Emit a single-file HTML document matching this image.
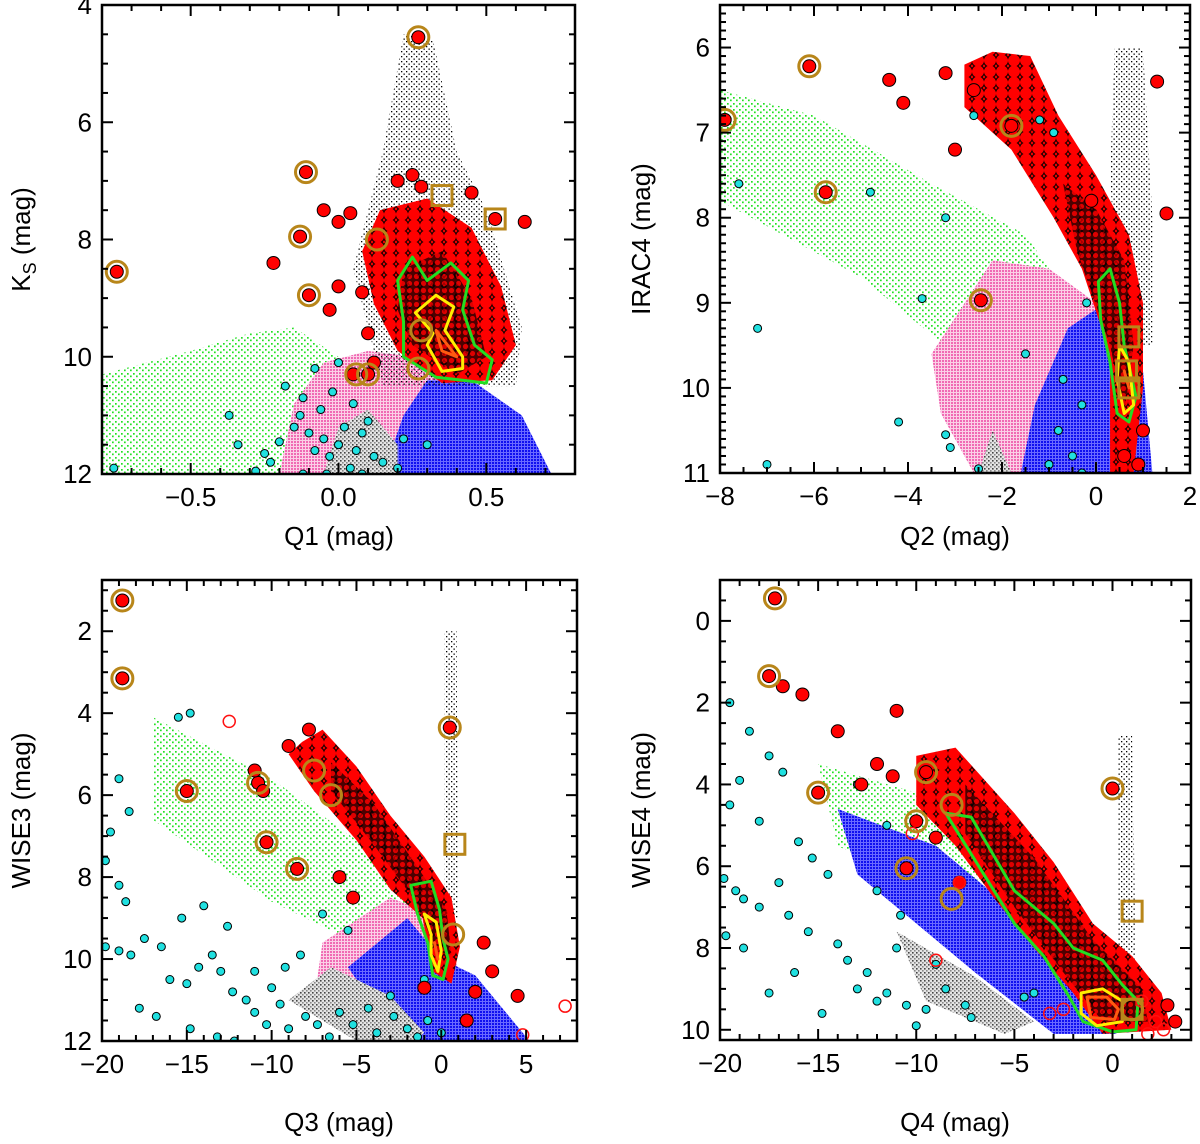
<!DOCTYPE html>
<html><head><meta charset="utf-8"><style>
html,body{margin:0;padding:0;background:#fff;}
svg{display:block;font-family:"Liberation Sans",sans-serif;}
</style></head><body>
<svg id="fig" width="1200" height="1144" viewBox="0 0 1200 1144" xmlns="http://www.w3.org/2000/svg">
<defs>
<pattern id="pGreen" width="6" height="6" patternUnits="userSpaceOnUse"><rect x="1" y="1" width="1.7" height="1.7" fill="#22e022"/><rect x="4" y="3.5" width="1.7" height="1.7" fill="#22e022"/></pattern>
<pattern id="pPink" width="3" height="3" patternUnits="userSpaceOnUse"><rect width="3" height="3" fill="#fbd0e6"/><rect x="0" y="0" width="2" height="2" fill="#f06ab4"/></pattern>
<pattern id="pBlue" width="3" height="3" patternUnits="userSpaceOnUse"><rect width="3" height="3" fill="#6a6aff"/><rect x="0" y="0" width="2" height="2" fill="#1010f0"/></pattern>
<pattern id="pGrey" width="4" height="4" patternUnits="userSpaceOnUse"><rect width="4" height="4" fill="#e4e4e4"/><rect x="0" y="0" width="1.6" height="1.6" fill="#444"/><rect x="2" y="2" width="1.6" height="1.6" fill="#888"/></pattern>
<pattern id="pBlack" width="5" height="5" patternUnits="userSpaceOnUse"><rect x="1" y="1" width="1.3" height="1.3" fill="#000"/><rect x="3.5" y="3.5" width="1.3" height="1.3" fill="#000"/></pattern>
<pattern id="pRed" width="12" height="11" patternUnits="userSpaceOnUse"><rect width="12" height="11" fill="#200"/><circle cx="0" cy="0" r="6.5" fill="#ff0000" stroke="#000" stroke-width="1"/><circle cx="12" cy="0" r="6.5" fill="#ff0000" stroke="#000" stroke-width="1"/><circle cx="0" cy="11" r="6.5" fill="#ff0000" stroke="#000" stroke-width="1"/><circle cx="12" cy="11" r="6.5" fill="#ff0000" stroke="#000" stroke-width="1"/><circle cx="6" cy="5.5" r="6.5" fill="#ff0000" stroke="#000" stroke-width="1"/></pattern>
<pattern id="pRedDark" width="7" height="7" patternUnits="userSpaceOnUse"><rect width="7" height="7" fill="#000"/><circle cx="3.5" cy="3.5" r="3" fill="#d00000" stroke="#000" stroke-width="0.8"/></pattern>
</defs>
</svg>
<script>
// ---------- Panel 1 data (Q1 vs Ks) ----------
const p1Green=[[-0.8,10.3],[-0.5,9.9],[-0.3,9.6],[-0.15,9.5],[0.0,10.0],[0.0,12],[-0.8,12]];
const p1Pink=[[-0.2,12],[-0.15,10.8],[-0.05,10.1],[0.1,9.9],[0.25,10.0],[0.45,10.6],[0.55,11.3],[0.62,12]];
const p1Blue=[[0.15,12],[0.22,11.0],[0.3,10.4],[0.45,10.4],[0.62,11.0],[0.72,12]];
const p1Grey=[[-0.05,12],[0.0,11.2],[0.1,10.9],[0.2,11.5],[0.2,12]];
const p1Black=[[0.22,4.5],[0.32,4.6],[0.4,6.5],[0.5,7.5],[0.62,9.5],[0.6,10.5],[0.15,10.5],[0.05,8.5],[0.15,6.5]];
const p1Red=[[0.14,7.5],[0.3,7.3],[0.45,7.8],[0.55,8.8],[0.6,9.8],[0.52,10.4],[0.35,10.45],[0.2,9.9],[0.12,9.1],[0.08,8.2]];
const p1RedCore=[[0.22,8.5],[0.35,8.2],[0.45,9.0],[0.5,10.0],[0.4,10.3],[0.25,9.8],[0.2,9.2]];
const p1Cyan=[[-0.76,11.9],[-0.37,11.0],[-0.34,11.5],[-0.23,11.8],[-0.25,11.65],[-0.15,11.2],[-0.13,11.0],[-0.2,11.45],[-0.1,11.3],[-0.08,11.6],[-0.05,11.4],[-0.03,11.7],[0.0,11.5],[0.02,11.2],[0.04,11.9],[0.06,11.6],[0.08,11.3],[-0.06,10.9],[-0.12,10.7],[-0.02,10.6],[0.05,10.8],[0.1,11.1],[0.12,11.7],[0.2,11.9],[0.3,11.5],[-0.18,10.5],[-0.08,10.2],[0.0,10.1],[-0.12,12.0],[-0.04,12.0],[0.08,12.0],[0.15,11.8],[-0.28,11.95],[0.22,11.4]];
const p1RedPts=[[-0.75,8.55],[-0.11,6.85],[-0.13,7.95],[-0.1,8.95],[0.27,4.55],[-0.22,8.4],[-0.05,7.5],[0.0,7.7],[0.04,7.55],[-0.03,9.2],[0.63,7.7],[0.53,7.65],[0.1,9.6],[0.12,10.1],[0.05,10.3],[0.1,10.3],[0.0,8.8],[0.08,8.9],[0.2,7.0],[0.25,6.9],[0.28,7.1],[0.45,7.2]];
const p1Rings=[[-0.75,8.55],[-0.11,6.85],[-0.13,7.95],[-0.1,8.95],[0.27,4.55],[0.13,8.0],[0.28,9.55],[0.27,10.2],[0.06,10.3],[0.1,10.3]];
const p1Squares=[[0.35,7.25],[0.53,7.65]];
const p1ContGreen=[[0.2,8.7],[0.25,8.3],[0.3,8.7],[0.38,8.4],[0.44,8.7],[0.42,9.2],[0.46,9.8],[0.52,10.05],[0.5,10.45],[0.42,10.4],[0.33,10.35],[0.22,10.0],[0.22,9.4]];
const p1ContYellow=[[0.26,9.25],[0.33,8.95],[0.39,9.15],[0.36,9.55],[0.42,10.0],[0.42,10.2],[0.35,10.25],[0.3,9.8],[0.32,9.6]];
const p1ContOrange=[[0.33,9.55],[0.35,9.9],[0.4,10.0]];
// ---------- Panel 2 data (Q2 vs IRAC4) ----------
const p2Green=[[-8,6.5],[-6,6.8],[-3.5,7.6],[-1.5,8.2],[-0.5,9.0],[-1.0,10.0],[-3.0,9.6],[-5,8.7],[-8,7.8]];
const p2Pink=[[-3.5,9.6],[-2.2,8.5],[-1.0,8.6],[0.0,9.0],[0.3,10.0],[0.1,11],[-2.6,11],[-3.3,10.3]];
const p2Blue=[[-1.6,11],[-1.3,10.2],[-0.6,9.3],[0.2,9.0],[1.0,9.8],[1.2,11]];
const p2Grey=[[-2.5,11],[-2.2,10.5],[-1.8,11]];
const p2Black=[[0.4,6.0],[1.0,6.0],[1.2,8.0],[1.2,9.5],[0.5,9.5],[0.3,7.5]];
const p2Red=[[-2.8,6.2],[-2.2,6.05],[-1.4,6.1],[-0.8,6.8],[0.0,7.5],[0.7,8.2],[1.0,9.0],[1.0,10.0],[0.8,11],[0.3,11],[0.3,9.6],[-0.3,8.6],[-0.9,8.0],[-1.8,7.2],[-2.8,6.7]];
const p2RedCore=[[-0.7,7.6],[0.0,7.9],[0.6,8.5],[0.8,9.5],[0.6,10.3],[0.3,9.5],[-0.4,8.4]];
const p2Cyan=[[-7.6,7.6],[-7.2,9.3],[-7.0,10.9],[-4.2,10.4],[-3.2,10.55],[-3.1,10.7],[-2.5,10.95],[-4.8,7.7],[-3.2,8.0],[-3.7,8.95],[-0.8,10.5],[-0.5,10.8],[-1.0,10.9],[-0.3,10.2],[-0.7,9.9],[-1.5,9.6],[-0.2,9.0],[-0.9,7.0],[-1.2,6.85],[-2.6,6.8],[-0.3,11.0]];
const p2RedPts=[[-6.1,6.22],[-7.9,6.85],[-5.75,7.7],[-2.45,8.97],[-1.8,6.92],[-4.4,6.38],[-4.1,6.65],[-3.2,6.3],[-3.0,7.2],[1.3,6.4],[1.5,7.95],[-0.1,7.8],[-2.6,6.5],[0.6,10.8],[1.0,10.5],[0.9,10.9]];
const p2Rings=[[-6.1,6.22],[-7.9,6.85],[-5.75,7.7],[-2.45,8.97],[-1.8,6.92]];
const p2Squares=[[0.7,9.4],[0.7,10.0],[0.65,9.8]];
const p2ContGreen=[[0.05,8.75],[0.3,8.6],[0.5,9.0],[0.6,9.5],[0.85,10.1],[0.7,10.4],[0.45,10.3],[0.3,9.7],[0.1,9.2]];
const p2ContYellow=[[0.5,9.5],[0.7,9.7],[0.8,10.2],[0.6,10.3],[0.45,9.9]];
const p2ContOrange=[[0.6,9.8],[0.7,10.0]];
// ---------- Panel 3 data (Q3 vs WISE3) ----------
const p3Green=[[-17,4.1],[-10,5.6],[-4,7.4],[-1.5,8.8],[-5,9.6],[-10,8.6],[-17,6.6]];
const p3Pink=[[-7,9.6],[-3,8.5],[0,9.0],[1.2,10.5],[2.2,12],[-5,12],[-7.5,11]];
const p3Blue=[[-5.5,10.2],[-2,9.0],[0,10.0],[2,10.4],[5.2,12],[-2.5,12]];
const p3Grey=[[-9,11.0],[-6.5,10.2],[-3,10.9],[-1,11.8],[-1.6,12],[-5,12]];
const p3Black=[[0.2,2.0],[0.9,2.0],[1.0,9.0],[0.2,9.0]];
const p3Red=[[-8.2,4.7],[-7,4.4],[-5,5.3],[-3,6.5],[-1,7.5],[0.6,8.5],[1.1,9.7],[0.6,10.6],[-0.5,10.3],[-1.1,9.0],[-3,8.3],[-5,7.1],[-7.5,5.9],[-9,5.0]];
const p3RedCore=[[-6.5,5.2],[-4,6.2],[-1.5,7.7],[0.3,8.8],[0.6,9.9],[-0.3,9.8],[-1.5,8.6],[-4,7.2],[-6.5,5.9]];
const p3Cyan=[[-19.8,7.6],[-19.5,6.9],[-19,5.6],[-18.4,6.4],[-15.5,4.1],[-14.8,4.0],[-19,8.2],[-18.6,8.6],[-19.8,9.7],[-19,9.8],[-18.3,9.9],[-17.5,9.5],[-16.5,9.7],[-16,10.5],[-15,10.6],[-14.3,10.2],[-13.5,9.9],[-13,10.3],[-12.3,10.8],[-11.5,11.0],[-11,11.3],[-10.3,11.6],[-9.5,11.1],[-9,11.7],[-8,11.4],[-7.3,11.6],[-6.6,11.9],[-6,11.3],[-5.2,11.6],[-4.3,11.2],[-3.8,11.8],[-2.8,11.4],[-2,11.7],[-1.4,11.9],[-0.8,11.5],[0,11.8],[-17.8,11.2],[-16.8,11.4],[-14.8,11.7],[-13.2,11.9],[-12.2,12.0],[-11,10.3],[-10,10.7],[-9.2,10.2],[-8.3,9.9],[-14,8.7],[-12.6,9.2],[-15.3,9.0],[-7,8.9],[-5.5,9.3],[-3,10.9],[-1,10.5]];
const p3RedPts=[[-18.8,1.25],[-18.8,3.15],[-15,5.9],[-10.8,5.7],[-10.3,7.15],[-8.5,7.8],[0.5,4.35],[-11,5.4],[-10.5,5.9],[-7.8,4.4],[-9,4.8],[-6,8.0],[-5.2,8.5],[2.5,9.6],[3,10.3],[4.5,10.9],[2,10.8],[1.5,11.5],[-1,10.7]];
const p3Rings=[[-18.8,1.25],[-18.8,3.15],[-15,5.9],[-10.8,5.7],[-10.3,7.15],[-8.5,7.8],[0.5,4.35],[-7.5,5.4],[-6.5,6.0],[0.7,9.4]];
const p3Squares=[[0.8,7.2]];
const p3Open=[[-12.5,4.2],[7.3,11.15],[4.8,11.85]];
const p3ContGreen=[[-1.8,8.2],[-0.6,8.1],[-0.1,8.8],[0.1,9.5],[0.4,10.0],[0.1,10.5],[-0.5,10.4],[-0.8,9.6],[-1.4,8.9]];
const p3ContYellow=[[-1.0,8.9],[-0.3,9.1],[0.0,9.8],[-0.2,10.3],[-0.6,9.9],[-0.6,9.4]];
const p3ContOrange=[[-0.4,9.6],[-0.2,10.0]];
// ---------- Panel 4 data (Q4 vs WISE4) ----------
const p4Green=[[-15,3.5],[-10,4.2],[-5,6.0],[-3.5,7.2],[-8,7.0],[-14,5.5]];
const p4Blue=[[-14,4.6],[-9,5.5],[-4,7.5],[-1,9.0],[0.2,10.1],[-3,10.1],[-7,8.6],[-13,6.2]];
const p4Pink=[[-8,7.2],[-4,7.8],[-1.5,9.0],[-2,9.9],[-4,9.6],[-7,8.6]];
const p4Grey=[[-11,7.6],[-7,8.7],[-4,9.8],[-5.5,10.1],[-9.5,9.3]];
const p4Black=[[0.3,2.8],[1.0,2.8],[1.2,8.5],[0.3,8.5]];
const p4Red=[[-10,3.3],[-8,3.1],[-5,4.7],[-3,5.9],[-1,7.4],[1,8.2],[2.5,9.1],[3,10],[-0.5,10.1],[-2,9.1],[-4,8.0],[-6,6.8],[-8,5.5],[-10,4.5]];
const p4RedCore=[[-7.5,4.0],[-4,5.8],[-1,7.8],[1.5,9.0],[1.8,9.8],[-0.5,9.8],[-2.5,8.6],[-5,7.0],[-7.5,5.2]];
const p4Cyan=[[-19.8,6.3],[-19.2,6.6],[-18.8,6.8],[-18,7.0],[-19.7,7.7],[-18.8,8.0],[-19.5,2.0],[-18.5,2.7],[-17.5,3.3],[-16.8,3.7],[-19,3.9],[-19.5,4.5],[-18,4.9],[-16,5.4],[-15.3,5.8],[-14.5,6.2],[-17,6.4],[-16.5,7.2],[-15.5,7.6],[-14,7.9],[-13.5,8.3],[-12.5,8.6],[-13,9.0],[-12,9.3],[-11.5,9.1],[-10.5,9.4],[-10,9.9],[-9.5,9.5],[-8.5,9.0],[-7.5,9.4],[-7.2,9.7],[-14.8,9.6],[-16.2,8.6],[-17.5,9.1],[-11,8.0],[-9,8.4],[-13,4.0],[-11.5,5.0],[-4.5,9.2],[-4,9.1],[-12,6.6],[-10.8,7.2]];
const p4RedPts=[[-17.2,-0.55],[-17.5,1.35],[-15,4.2],[-9.5,3.7],[-10,4.9],[-10.5,6.05],[0,4.1],[-16.8,1.6],[-15.8,1.8],[-14,2.7],[-11,2.2],[-12,3.5],[-11.2,3.8],[-12.8,4.0],[-9,5.3],[-7.8,6.4],[3.2,9.8],[2.8,9.4]];
const p4Rings=[[-17.2,-0.55],[-17.5,1.35],[-15,4.2],[-9.5,3.7],[-10,4.9],[-10.5,6.05],[0,4.1],[-8.2,4.5],[-8.2,6.8],[1,9.5]];
const p4Squares=[[1,7.1],[1,9.5]];
const p4Open=[[-10.2,5.2],[-9,8.3],[-7.8,6.4],[-2.5,9.5],[1.5,9.3],[2.2,9.8],[1.8,10.1],[2.6,10.0],[-3.2,9.6]];
const p4ContGreen=[[-8.5,4.7],[-7.2,4.8],[-5,6.6],[-3,7.4],[-2,8.0],[-0.5,8.3],[0.5,8.9],[1.3,9.3],[1.2,10.0],[0,10.05],[-1.5,9.8],[-2.2,9.2],[-3.5,8.2],[-5,7.4]];
const p4ContYellow=[[-1.6,9.1],[-0.5,9.0],[0.5,9.3],[0.5,9.8],[-0.8,9.9],[-1.6,9.6]];
const p4ContOrange=[[-1.3,9.2],[-0.3,9.2],[0.3,9.5],[0.1,9.75],[-1.1,9.7]];

const NS='http://www.w3.org/2000/svg';
const svg=document.getElementById('fig');
function mk(tag,attrs,parent){const e=document.createElementNS(NS,tag);for(const k in attrs)e.setAttribute(k,attrs[k]);(parent||svg).appendChild(e);return e;}

const panels=[
 {id:'p1',L:102,R:575,T:5,B:474,x0:-0.8,x1:0.8,y0:4,y1:12,xMaj:0.5,xMin:0.1,yMaj:2,yMin:0.5,xDec:1,yDec:0,
  green:p1Green,pink:p1Pink,blue:p1Blue,grey:p1Grey,black:p1Black,red:p1Red,core:p1RedCore,cyan:p1Cyan,pts:p1RedPts,rings:p1Rings,sq:p1Squares,open:[],cg:p1ContGreen,cy:p1ContYellow,co:p1ContOrange,
  xt:'Q1 (mag)',yt:'K',ysub:'S',xtx:339,xty:545,ytx:30},
 {id:'p2',L:720,R:1190,T:5,B:473,x0:-8,x1:2,y0:5.5,y1:11,xMaj:2,xMin:0.5,yMaj:1,yMin:0.1,xDec:0,yDec:0,
  green:p2Green,pink:p2Pink,blue:p2Blue,grey:p2Grey,black:p2Black,red:p2Red,core:p2RedCore,cyan:p2Cyan,pts:p2RedPts,rings:p2Rings,sq:p2Squares,open:[],cg:p2ContGreen,cy:p2ContYellow,co:p2ContOrange,
  xt:'Q2 (mag)',yt:'IRAC4 (mag)',xtx:955,xty:545,ytx:650},
 {id:'p3',L:102,R:577,T:580,B:1041,x0:-20,x1:8,y0:0.75,y1:12,xMaj:5,xMin:1,yMaj:2,yMin:0.5,xDec:0,yDec:0,
  green:p3Green,pink:p3Pink,blue:p3Blue,grey:p3Grey,black:p3Black,red:p3Red,core:p3RedCore,cyan:p3Cyan,pts:p3RedPts,rings:p3Rings,sq:p3Squares,open:p3Open,cg:p3ContGreen,cy:p3ContYellow,co:p3ContOrange,
  xt:'Q3 (mag)',yt:'WISE3 (mag)',xtx:339,xty:1131,ytx:30},
 {id:'p4',L:720,R:1191,T:580,B:1040,x0:-20,x1:4,y0:-1,y1:10.25,xMaj:5,xMin:1,yMaj:2,yMin:0.5,xDec:0,yDec:0,
  green:p4Green,pink:p4Pink,blue:p4Blue,grey:p4Grey,black:p4Black,red:p4Red,core:p4RedCore,cyan:p4Cyan,pts:p4RedPts,rings:p4Rings,sq:p4Squares,open:p4Open,cg:p4ContGreen,cy:p4ContYellow,co:p4ContOrange,
  xt:'Q4 (mag)',yt:'WISE4 (mag)',xtx:955,xty:1131,ytx:650}
];

function fmt(v,d){let s=v.toFixed(d);if(Math.abs(v)<1e-9)s=(0).toFixed(d);return s.replace('-','\u2212');}

panels.forEach(p=>{
 const sx=v=>p.L+(v-p.x0)/(p.x1-p.x0)*(p.R-p.L);
 const sy=v=>p.T+(v-p.y0)/(p.y1-p.y0)*(p.B-p.T);
 const g=mk('g',{});
 
 
 const cp=mk('clipPath',{id:'clip'+p.id},g);
 mk('rect',{x:p.L,y:p.T,width:p.R-p.L,height:p.B-p.T},cp);
 const plot=mk('g',{'clip-path':'url(#clip'+p.id+')'},g);
 
 
 const poly=(arr,fill,name,extra)=>{const e=mk('polygon',Object.assign({points:arr.map(q=>sx(q[0])+','+sy(q[1])).join(' '),fill:fill},extra||{}),plot);
  return e;};
 poly(p.green,'url(#pGreen)','field-stars-green');
 poly(p.pink,'url(#pPink)','field-stars-pink');
 poly(p.blue,'url(#pBlue)','field-stars-blue');
 poly(p.grey,'url(#pGrey)','field-stars-grey');
 poly(p.black,'url(#pBlack)','field-stars-black');
 poly(p.red,'url(#pRed)','red-giant-cluster');
 poly(p.core,'url(#pRedDark)','red-giant-cluster-core',{opacity:0.7});
 p.cyan.forEach(q=>{const c=mk('circle',{cx:sx(q[0]),cy:sy(q[1]),r:4,fill:'#20e0e0',stroke:'#000','stroke-width':1},plot);
  });
 const line=(arr,col,name)=>{const e=mk('polygon',{points:arr.map(q=>sx(q[0])+','+sy(q[1])).join(' '),fill:'none',stroke:col,'stroke-width':3,'stroke-linejoin':'round'},plot);
  };
 line(p.cg,'#22dd22','contour-green');
 line(p.cy,'#ffee00','contour-yellow');
 line(p.co,'#ff5a10','contour-orange');
 p.pts.forEach(q=>{const c=mk('circle',{cx:sx(q[0]),cy:sy(q[1]),r:6.5,fill:'#ff0000',stroke:'#000','stroke-width':1},plot);
  });
 p.open.forEach(q=>{const c=mk('circle',{cx:sx(q[0]),cy:sy(q[1]),r:6,fill:'none',stroke:'#ff1010','stroke-width':1.5},plot);
  });
 p.rings.forEach(q=>{const c=mk('circle',{cx:sx(q[0]),cy:sy(q[1]),r:10.5,fill:'none',stroke:'#b8861a','stroke-width':3},plot);
  });
 p.sq.forEach(q=>{const c=mk('rect',{x:sx(q[0])-10,y:sy(q[1])-10,width:20,height:20,fill:'none',stroke:'#b8861a','stroke-width':3},plot);
  });
 const fr=mk('rect',{x:p.L,y:p.T,width:p.R-p.L,height:p.B-p.T,fill:'none',stroke:'#000','stroke-width':2.5},g);
 
 const tk=mk('g',{stroke:'#000','stroke-width':2},g);
 
 const eps=1e-6;
 for(let v=Math.ceil(p.x0/p.xMin-eps)*p.xMin;v<=p.x1+eps;v+=p.xMin){
  const maj=Math.abs(v/p.xMaj-Math.round(v/p.xMaj))<1e-4;const len=maj?11:6;const X=sx(v);
  mk('line',{x1:X,y1:p.B,x2:X,y2:p.B-len},tk);mk('line',{x1:X,y1:p.T,x2:X,y2:p.T+len},tk);
  if(maj){const t=mk('text',{x:X,y:p.B+32,'font-size':26,'text-anchor':'middle',fill:'#000'},g);t.textContent=fmt(v,p.xDec);
   }
 }
 for(let v=Math.ceil(p.y0/p.yMin-eps)*p.yMin;v<=p.y1+eps;v+=p.yMin){
  const maj=Math.abs(v/p.yMaj-Math.round(v/p.yMaj))<1e-4;const len=maj?11:6;const Y=sy(v);
  mk('line',{x1:p.L,y1:Y,x2:p.L+len,y2:Y},tk);mk('line',{x1:p.R,y1:Y,x2:p.R-len,y2:Y},tk);
  if(maj){const t=mk('text',{x:p.L-10,y:Y+9,'font-size':26,'text-anchor':'end',fill:'#000'},g);t.textContent=fmt(v,p.yDec);
   }
 }
 const xt=mk('text',{x:p.xtx,y:p.xty,'font-size':26,'text-anchor':'middle',fill:'#000'},g);xt.textContent=p.xt;
 
 const cyM=(p.T+p.B)/2;
 const yt=mk('text',{x:p.ytx,y:cyM,'font-size':26,'text-anchor':'middle',fill:'#000',transform:'rotate(-90 '+p.ytx+' '+cyM+')'},g);
 
 if(p.ysub){yt.appendChild(document.createTextNode(p.yt));const s=mk('tspan',{'font-size':18,dy:6},yt);s.textContent=p.ysub;
  const s2=mk('tspan',{dy:-6},yt);s2.textContent=' (mag)';}
 else yt.textContent=p.yt;
});
</script>
</body></html>
